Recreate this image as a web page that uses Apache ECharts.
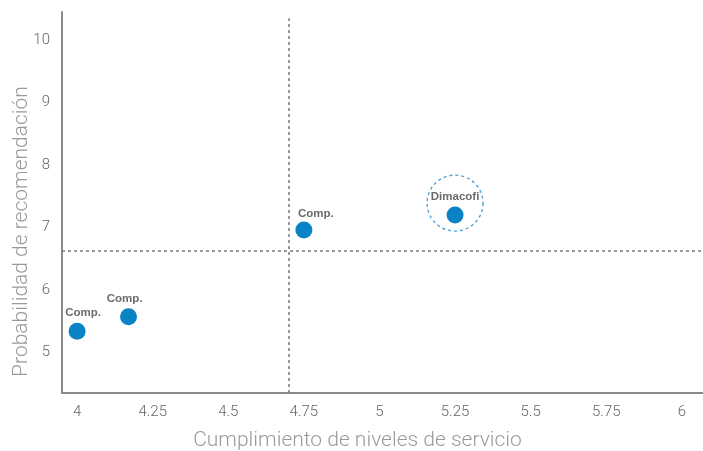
<!DOCTYPE html>
<html><head><meta charset="utf-8">
<script src="https://cdn.jsdelivr.net/npm/echarts@6/dist/echarts.min.js"></script>
<style>html,body{margin:0;padding:0;background:#fff}#c{width:703px;height:451px}</style>
</head><body><div id="c"></div>
<script>
var pointLabels = ['Comp.', 'Comp.', 'Comp.', 'Dimacofi'];
var xValues = [4.00, 4.17, 4.75, 5.25];
var yValues = [5.34, 5.57, 6.96, 7.20];
var highlightCenter = [5.25, 7.39];
var refX = 4.70;
var refY = 6.63;
var refTopY = 10.35;
var xTickLabels = ['4', '4.25', '4.5', '4.75', '5', '5.25', '5.5', '5.75', '6'];
var yTickLabels = ['5', '6', '7', '8', '9', '10'];
var xName = 'Cumplimiento de niveles de servicio';
var yName = 'Probabilidad de recomendación';

// label nudges (pixels), styling only
var labelNudges = [[6, 0], [-4, 1], [12, 2], [0, 0]];

var xMin = 3.95, xMax = 6.07, yMin = 4.35, yMax = 10.45;

function fmtX(v) {
  for (var i = 0; i < xTickLabels.length; i++) {
    if (Math.abs(v - parseFloat(xTickLabels[i])) < 1e-6) return xTickLabels[i];
  }
  return '';
}
function fmtY(v) {
  for (var i = 0; i < yTickLabels.length; i++) {
    if (Math.abs(v - parseFloat(yTickLabels[i])) < 1e-6) return yTickLabels[i];
  }
  return '';
}

var pts = xValues.map(function (x, i) {
  return { value: [x, yValues[i]], name: pointLabels[i], label: { offset: labelNudges[i] } };
});
var dashStyle = { color: '#7a7a7a', width: 1.5, type: [3, 3] };

var chart = echarts.init(document.getElementById('c'), null, { renderer: 'canvas' });
chart.setOption({
  animation: false,
  backgroundColor: '#fff',
  grid: { left: 62, right: 0, top: 12, bottom: 58, containLabel: false, outerBoundsMode: 'none' },
  xAxis: {
    type: 'value', min: xMin, max: xMax, interval: 0.05,
    name: xName, nameLocation: 'middle', nameGap: 37, nameMoveOverlap: false,
    nameTextStyle: { fontFamily: 'Roboto', fontWeight: 300, fontSize: 21, color: '#9a9a9a', padding: [0, 50, 0, 0] },
    axisLine: { show: true, lineStyle: { color: '#8a8a8a', width: 2 } },
    axisTick: { show: false },
    splitLine: { show: false },
    axisLabel: { formatter: fmtX, margin: 12, fontFamily: 'Roboto', fontWeight: 300, fontSize: 15, color: '#666' }
  },
  yAxis: {
    type: 'value', min: yMin, max: yMax, interval: 0.05,
    name: yName, nameLocation: 'middle', nameGap: 30, nameRotate: 90, nameMoveOverlap: false,
    nameTextStyle: { fontFamily: 'Roboto', fontWeight: 300, fontSize: 21, color: '#9a9a9a', padding: [0, 58, 0, 0] },
    axisLine: { show: true, lineStyle: { color: '#8a8a8a', width: 2 } },
    axisTick: { show: false },
    splitLine: { show: false },
    axisLabel: { formatter: fmtY, margin: 12, fontFamily: 'Roboto', fontWeight: 300, fontSize: 15, color: '#666' }
  },
  series: [
    {
      type: 'scatter', silent: true, z: 1,
      data: [],
      markLine: {
        silent: true, symbol: 'none', label: { show: false },
        lineStyle: dashStyle,
        data: [
          [{ coord: [refX, yMin] }, { coord: [refX, refTopY] }],
          [{ coord: [xMin, refY] }, { coord: [xMax, refY] }]
        ]
      }
    },
    {
      type: 'scatter', z: 2, symbolSize: 56,
      data: [highlightCenter],
      itemStyle: { color: 'rgba(0,0,0,0)', borderColor: '#1c86c8', borderWidth: 1.3, borderType: [3, 3] }
    },
    {
      type: 'scatter', z: 3, symbolSize: 17,
      data: pts,
      itemStyle: { color: '#0a82c6', opacity: 1 },
      label: {
        show: true, position: 'top', distance: 4,
        formatter: function (p) { return p.name; },
        fontFamily: 'Liberation Sans', fontWeight: 'bold', fontSize: 11.5, color: '#6b6b6b'
      }
    }
  ]
});
</script></body></html>
